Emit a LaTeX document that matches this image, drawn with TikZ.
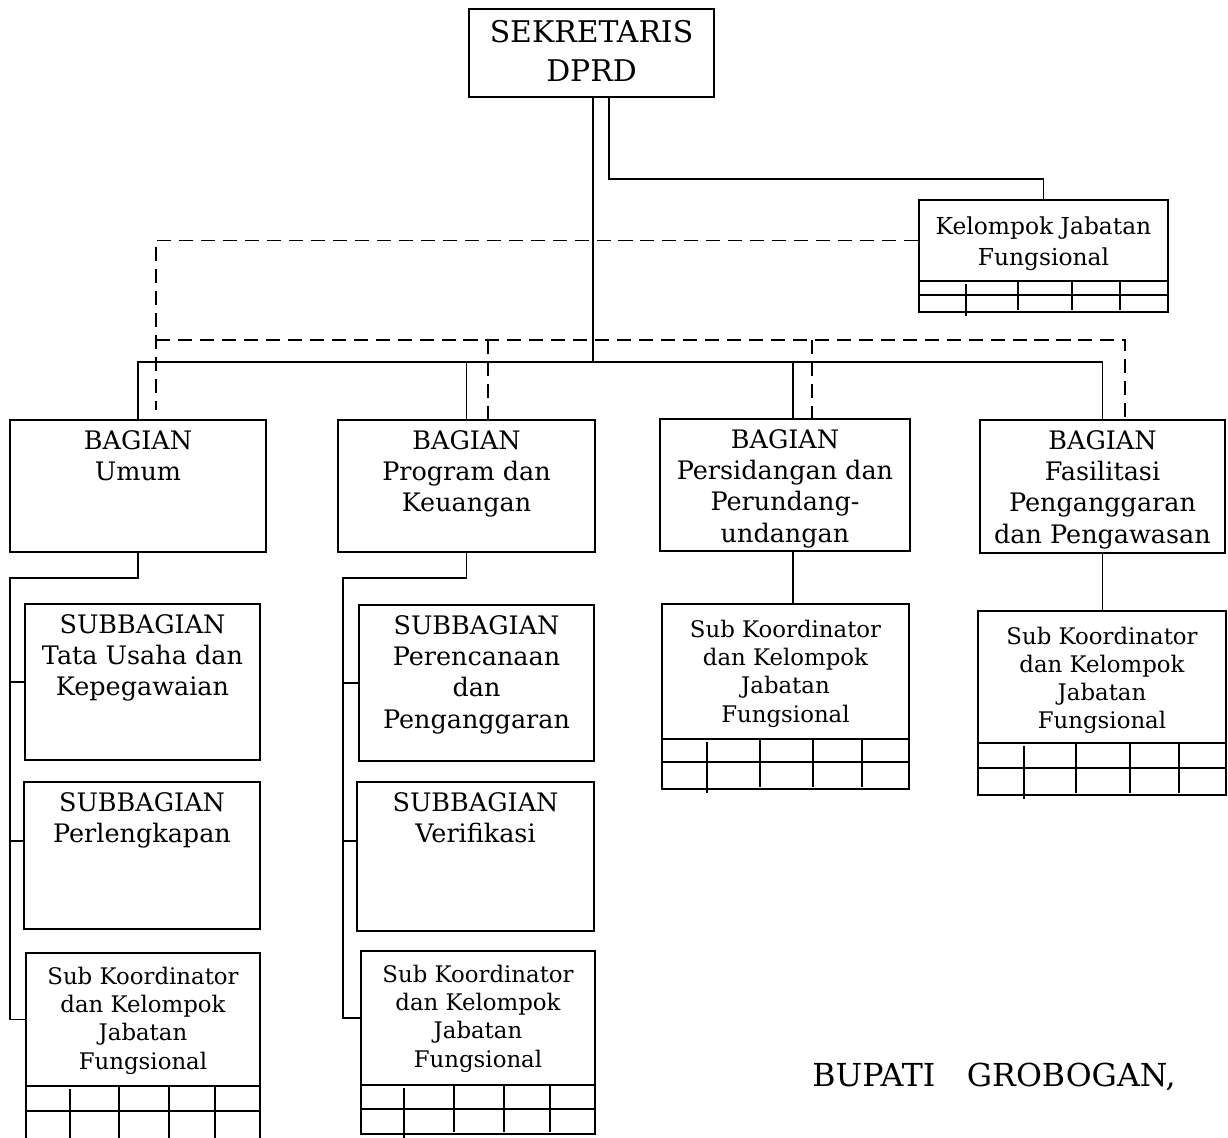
\documentclass[tikz,border=0pt]{standalone}
\usepackage{fontspec}
\setmainfont{DejaVu Serif}
\usetikzlibrary{fit,calc}
\newcommand\jtab[6]{%
  \draw[line width=1.6pt] (#1,#3) -- (#2,#3);
  \draw[ln] (#1,#3) -- (#1,#5) -- (#2,#5) -- (#2,#3);
  \draw[ln] (#1,#4) -- (#2,#4);
  \foreach \xx [count=\ii] in {#6} {%
    \ifnum\ii=1 \draw[ln] (\xx,#3+3) -- (\xx,#5+4);
    \else \draw[ln] (\xx,#3) -- (\xx,#5-2); \fi}
}
\begin{document}
\begin{tikzpicture}[x=0.02cm,y=-0.02cm,
  ln/.style={line width=1.1pt},
  dline/.style={line width=1.1pt,dash pattern=on 8pt off 4.5pt},
  box/.style={draw,line width=1.1pt,inner sep=0pt},
  bigtxt/.style={inner sep=0pt,align=center,font=\fontsize{17pt}{22pt}\selectfont},
  bt/.style={inner sep=0pt,align=center,font=\fontsize{14.5pt}{17.8pt}\selectfont},
  skt/.style={inner sep=0pt,align=center,font=\fontsize{13pt}{16pt}\selectfont},
  kjt/.style={inner sep=0pt,align=center,font=\fontsize{13.3pt}{17.6pt}\selectfont}]
\useasboundingbox (0,0) rectangle (1228,1137);
% boxes
\node[box,fit={(469,9)(714,97)}] (sek) {};
\node[box,fit={(919,200)(1168,281)}] (kjf) {};
\node[box,fit={(10,420)(266,552)}] (umum) {};
\node[box,fit={(338,420)(595,552)}] (prog) {};
\node[box,fit={(660,419)(910,551)}] (pers) {};
\node[box,fit={(980,420)(1225,553)}] (fas) {};
\node[box,fit={(25,604)(260,760)}] (tata) {};
\node[box,fit={(24,782)(260,929)}] (perl) {};
\node[box,fit={(26,953)(260,1086)}] (sk1) {};
\node[box,fit={(359,605)(594,761)}] (pere) {};
\node[box,fit={(357,782)(594,931)}] (veri) {};
\node[box,fit={(361,951)(595,1085)}] (sk2) {};
\node[box,fit={(662,604)(909,739)}] (sk3) {};
\node[box,fit={(978,611)(1226,743)}] (sk4) {};
% texts
\node[bigtxt,anchor=north] (tsek) at ([yshift=-0.24cm]sek.north) {SEKRETARIS\\DPRD};
\node[kjt,anchor=north] (tkjf) at ([yshift=-0.34cm]kjf.north) {Kelompok Jabatan\\Fungsional};
\node[bt,anchor=north] (tumum) at ([yshift=-0.22cm]umum.north) {BAGIAN\\Umum};
\node[bt,anchor=north] (tprog) at ([yshift=-0.22cm]prog.north) {BAGIAN\\Program dan\\Keuangan};
\node[bt,anchor=north] (tpers) at ([yshift=-0.22cm]pers.north) {BAGIAN\\Persidangan dan\\Perundang-\\undangan};
\node[bt,anchor=north] (tfas) at ([yshift=-0.22cm]fas.north) {BAGIAN\\Fasilitasi\\Penganggaran\\dan Pengawasan};
\node[bt,anchor=north] (ttata) at ([yshift=-0.22cm]tata.north) {SUBBAGIAN\\Tata Usaha dan\\Kepegawaian};
\node[bt,anchor=north] (tperl) at ([yshift=-0.22cm]perl.north) {SUBBAGIAN\\Perlengkapan};
\node[bt,anchor=north] (tpere) at ([yshift=-0.22cm]pere.north) {SUBBAGIAN\\Perencanaan\\dan\\Penganggaran};
\node[bt,anchor=north] (tveri) at ([yshift=-0.22cm]veri.north) {SUBBAGIAN\\Verifikasi};
\node[skt,anchor=north] (tsk1) at ([yshift=-0.3cm]sk1.north) {Sub Koordinator\\dan Kelompok\\Jabatan\\Fungsional};
\node[skt,anchor=north] (tsk2) at ([yshift=-0.3cm]sk2.north) {Sub Koordinator\\dan Kelompok\\Jabatan\\Fungsional};
\node[skt,anchor=north] (tsk3) at ([yshift=-0.34cm]sk3.north) {Sub Koordinator\\dan Kelompok\\Jabatan\\Fungsional};
\node[skt,anchor=north] (tsk4) at ([yshift=-0.33cm]sk4.north) {Sub Koordinator\\dan Kelompok\\Jabatan\\Fungsional};
\node[inner sep=0pt,anchor=base west,font=\fontsize{18pt}{22pt}\selectfont] (bup) at (812,1086) {BUPATI\hspace{18pt}GROBOGAN,};
% tables
\jtab{919}{1168}{281}{295}{312}{966,1018,1072,1120}
\jtab{26}{260}{1086}{1111}{1142}{70,119,169,215}
\jtab{361}{595}{1085}{1109}{1134}{404,454,504,550}
\jtab{662}{909}{739}{762}{789}{707,760,813,862}
\jtab{978}{1226}{743}{768}{795}{1024,1076,1130,1179}
% solid connectors
\coordinate (bus) at (593,362);
\draw[ln] (sek.south -| bus) -- (bus);
\draw[ln] (umum.north) |- (bus) -| (fas.north);
\draw[ln] (prog.north) -- (prog.north |- bus);
\path ([xshift=0.16cm]pers.north) coordinate (pn);
\draw[ln] (pn) -- (pn |- bus);
\path ([xshift=0.35cm]sek.south) coordinate (s2);
\draw[ln] (s2) |- ([yshift=0.4cm]kjf.north) -- (kjf.north);
% dashed connectors
\coordinate (dbus) at (156,340);
\coordinate (dum) at (156,410);
\draw[dline] (kjf.west) -| (dum);
\path ([xshift=0.45cm]fas.north) coordinate (fn);
\draw[dline] (dbus) -| (fn);
\path ([xshift=0.43cm]prog.north) coordinate (pgn);
\draw[dline] (pgn |- dbus) -- (pgn);
\path ([xshift=0.54cm]pers.north) coordinate (pdn);
\draw[dline] (pdn |- dbus) -- (pdn);
% children of Umum
\coordinate (ul) at (10,578);
\draw[ln] (umum.south) |- (ul) |- (sk1.west);
\draw[ln] (ul |- tata.west) -- (tata.west);
\path ([yshift=0.29cm]perl.west) coordinate (pw);
\draw[ln] (ul |- pw) -- (pw);
% children of Program
\coordinate (pl) at (343,578);
\draw[ln] (prog.south) |- (pl) |- (sk2.west);
\draw[ln] (pl |- pere.west) -- (pere.west);
\path ([yshift=0.31cm]veri.west) coordinate (vw);
\draw[ln] (pl |- vw) -- (vw);
% other children
\draw[ln] (pn |- pers.south) -- (pn |- sk3.north);
\draw[ln] (fas.south) -- (fas.south |- sk4.north);
\end{tikzpicture}
\end{document}
